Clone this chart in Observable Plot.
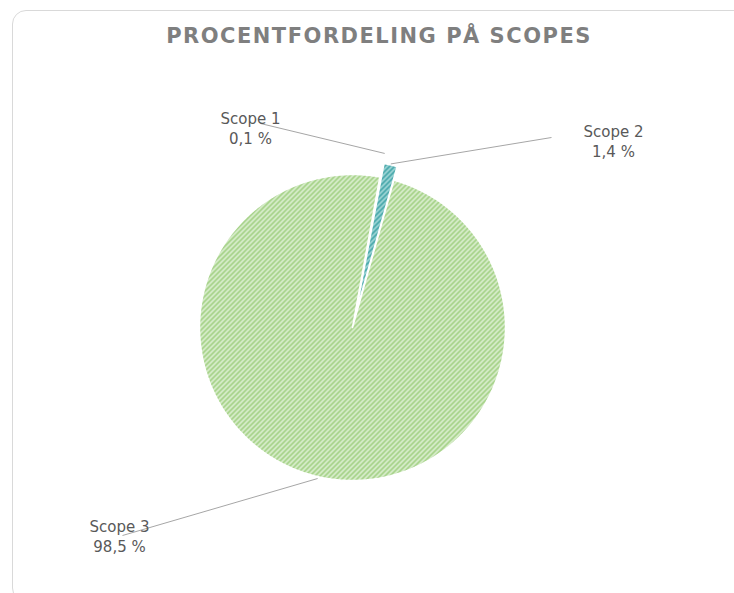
<!DOCTYPE html>
<html><head><meta charset="utf-8">
<script src="https://cdn.jsdelivr.net/npm/d3@7"></script>
<script src="https://cdn.jsdelivr.net/npm/@observablehq/plot@0.6"></script>
<style>
html,body{margin:0;padding:0;background:#fff;overflow:hidden;}
#wrap{position:relative;width:734px;height:593px;overflow:hidden;}
#frame{position:absolute;left:12px;top:10px;width:760px;height:592px;border:1px solid #d9d9d9;border-radius:14px;box-sizing:border-box;}
#title{position:absolute;left:12px;width:734px;top:23px;text-align:center;font:bold 21px "DejaVu Sans";letter-spacing:1.5px;color:#7f7f7f;line-height:26px;}
#chart{position:absolute;left:0;top:0;}
</style></head><body>
<div id="wrap"><div id="frame"></div><div id="title">PROCENTFORDELING PÅ SCOPES</div><div id="chart"></div></div>
<script>
// ---- data ----
const categories = ["Scope 1", "Scope 2", "Scope 3"];
const shares = [0.1, 1.4, 98.5];
const valueLabels = ["0,1 %", "1,4 %", "98,5 %"];

// ---- layout ----
const W = 734, H = 593;
const cx = 352, cy = 327, R = 153, startDeg = 10.3;
const explode = [14, 14, 0];
const leaderStartR = [177, 168, 155];
const labelCenter = [[250, 127], [613, 140], [119, 535]];
const leaderEnd = [[260, 123], [551, 137], [122, 535]];
const fills = ["url(#pTeal)", "url(#pTeal)", "url(#pGreen)"];

const a0 = startDeg * Math.PI / 180;
const arcs = d3.pie().sort(null).startAngle(a0).endAngle(a0 + 2 * Math.PI)(shares);

const slicePts = [];
const leaders = [];
const labels = [];
arcs.forEach((s, i) => {
  const mid = (s.startAngle + s.endAngle) / 2;
  const ox = cx + explode[i] * Math.sin(mid), oy = cy - explode[i] * Math.cos(mid);
  const n = Math.max(2, Math.ceil((s.endAngle - s.startAngle) / (Math.PI / 360)));
  slicePts.push({cat: categories[i], x: ox, y: oy});
  for (let k = 0; k <= n; k++) {
    const a = s.startAngle + (s.endAngle - s.startAngle) * k / n;
    slicePts.push({cat: categories[i], x: ox + R * Math.sin(a), y: oy - R * Math.cos(a)});
  }
  slicePts.push({cat: categories[i], x: ox, y: oy});
  leaders.push({x1: cx + leaderStartR[i] * Math.sin(mid), y1: cy - leaderStartR[i] * Math.cos(mid), x2: leaderEnd[i][0], y2: leaderEnd[i][1]});
  labels.push({x: labelCenter[i][0], y: labelCenter[i][1], text: categories[i] + "\n" + valueLabels[i]});
});

const defs = () => {
  const g = document.createElementNS("http://www.w3.org/2000/svg", "defs");
  g.innerHTML = `
  <pattern id="pGreen" width="5" height="5" patternUnits="userSpaceOnUse">
    <rect width="5" height="5" fill="#e0f1d6"/>
    <path d="M-1,1L1,-1M0,5L5,0M4,6L6,4" stroke="#9fcf80" stroke-width="1.8"/>
  </pattern>
  <pattern id="pTeal" width="5" height="5" patternUnits="userSpaceOnUse">
    <rect width="5" height="5" fill="#a8dbdb"/>
    <path d="M-1,1L1,-1M0,5L5,0M4,6L6,4" stroke="#3fa3a6" stroke-width="1.8"/>
  </pattern>`;
  return g;
};

const marks = [defs];
categories.forEach((c, i) => {
  marks.push(Plot.line(slicePts.filter(d => d.cat === c), {x: "x", y: "y", fill: fills[i], stroke: "white", strokeWidth: 1.5, strokeLinejoin: "miter", curve: "linear"}));
});
marks.push(Plot.link(leaders, {x1: "x1", y1: "y1", x2: "x2", y2: "y2", stroke: "#a6a6a6", strokeWidth: 1}));
marks.push(Plot.text(labels, {x: "x", y: "y", text: "text", fontSize: 15, lineHeight: 1.33, fill: "#595959", fontFamily: "DejaVu Sans", textAnchor: "middle"}));

const chart = Plot.plot({
  width: W, height: H, margin: 0,
  x: {domain: [0, W], range: [0, W], axis: null},
  y: {domain: [0, H], range: [0, H], axis: null},
  style: {background: "transparent", overflow: "visible"},
  marks
});
document.getElementById("chart").appendChild(chart);
</script>
</body></html>
